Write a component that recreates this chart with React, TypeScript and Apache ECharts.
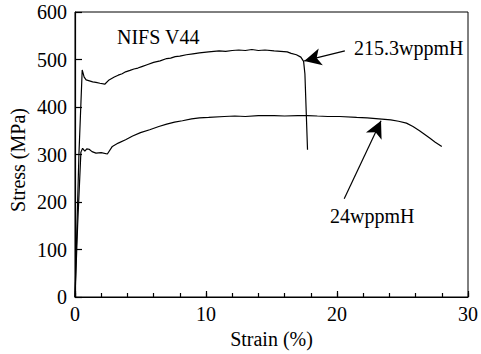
import React, { useEffect, useRef } from "react";
import * as echarts from "echarts";

const highH: [number, number][] = [
  [0, 0], [0.3, 300], [0.55, 478], [0.7, 463], [0.85, 457], [1.1, 455], [1.35, 453], [1.6, 452],
  [1.9, 450], [2.27, 448], [2.6, 457], [3.0, 463], [3.3, 467], [3.6, 470], [3.86, 474], [4.2, 477],
  [4.5, 480], [4.8, 482], [5.1, 485], [5.5, 489], [6.0, 494], [6.5, 497], [7.0, 502], [7.3, 503],
  [7.65, 506], [8.0, 507], [8.5, 510], [9.0, 512], [9.5, 514], [10.2, 516], [10.6, 517], [11.0, 518],
  [11.5, 517], [12.0, 519], [12.5, 520], [13.0, 519], [13.5, 521], [14.0, 519], [14.5, 520], [15.2, 518],
  [15.7, 517], [16.2, 516], [16.5, 513], [16.9, 510], [17.24, 505], [17.45, 496], [17.55, 470], [17.75, 310]
];

const lowH: [number, number][] = [
  [0, 0], [0.2, 150], [0.45, 305], [0.58, 313], [0.75, 307], [0.9, 312], [1.08, 311], [1.3, 306],
  [1.6, 303], [2.0, 304], [2.47, 301], [2.85, 317], [3.3, 324], [3.86, 331], [4.4, 339], [5.0, 346],
  [5.7, 352], [6.4, 359], [7.0, 364], [7.6, 368], [8.2, 371], [8.9, 375], [9.5, 377], [10.2, 378],
  [11.4, 380], [12.2, 381], [13.0, 380], [14.0, 382], [15.2, 382], [16.0, 381], [17.0, 382], [17.75, 382],
  [18.5, 381], [19.3, 380], [20.2, 380], [21.5, 378], [22.3, 377], [23.2, 375], [24.1, 373], [24.7, 370],
  [25.3, 366], [25.8, 359], [26.3, 350], [26.7, 342], [27.1, 334], [27.5, 326], [28.0, 317]
];

const arrowHigh = [[20.6, 518], [17.5, 497]];
const arrowLow = [[20.55, 207], [23.36, 371]];

const xTicks = { min: 0, max: 30, interval: 10 };
const xMinorTicks = { min: 0, max: 30, interval: 2 };
const yTicks = { min: 0, max: 600, interval: 100 };

const FONT = "Liberation Serif";
const FONT_CSS = "20px 'Liberation Serif'";

export default function App() {
  const ref = useRef<HTMLDivElement>(null);
  useEffect(() => {
    const chart = echarts.init(ref.current!, null, { renderer: "svg" });
    const txt = { color: "#000", fontSize: 20, fontFamily: FONT };
    const arrowLine = (a: number[][]) => ({
      silent: true,
      symbol: ["none", "arrow"],
      symbolSize: [13, 17],
      lineStyle: { color: "#000", width: 1.2, type: "solid" },
      label: { show: false },
      data: [[{ coord: a[0] }, { coord: a[1] }]],
    });
    const gtext = (text: string, x: number, y: number, extra: any = {}) => ({
      type: "text", x, y, ...extra,
      style: { text, fill: "#000", font: FONT_CSS, verticalAlign: "middle", align: extra.align || "left" },
    });
    chart.setOption({
      animation: false,
      textStyle: { fontFamily: FONT },
      grid: { left: 75, right: 10, top: 12, bottom: 57, show: true, borderColor: "#000", borderWidth: 1 },
      xAxis: [
        {
          type: "value", ...xTicks, position: "bottom",
          name: "Strain (%)", nameLocation: "middle", nameGap: 31,
          nameTextStyle: txt,
          axisLine: { lineStyle: { color: "#000", width: 1.2 } },
          axisTick: { inside: true, length: 6, lineStyle: { color: "#000", width: 1.2 } },
          splitLine: { show: false },
          axisLabel: { ...txt, margin: 7 },
        },
        {
          type: "value", ...xMinorTicks, position: "bottom", offset: 0,
          axisLine: { show: false },
          axisTick: { inside: true, length: 4, lineStyle: { color: "#000", width: 1.2 } },
          splitLine: { show: false },
          axisLabel: { show: false },
        },
      ],
      yAxis: {
        type: "value", ...yTicks,
        axisLine: { lineStyle: { color: "#000", width: 1.2 } },
        axisTick: { inside: true, length: 7, lineStyle: { color: "#000", width: 1.2 } },
        splitLine: { show: false },
        axisLabel: { ...txt, margin: 8 },
      },
      graphic: [
        gtext("NIFS V44", 117, 37),
        gtext("215.3wppmH", 354, 47.5),
        gtext("24wppmH", 330, 215.5),
        gtext("Stress (MPa)", 18, 160, { rotation: Math.PI / 2, align: "center" }),
      ],
      series: [
        {
          type: "line", data: highH, showSymbol: false, smooth: false, xAxisIndex: 0,
          lineStyle: { color: "#000", width: 1.2 },
          markLine: arrowLine(arrowHigh),
        },
        {
          type: "line", data: lowH, showSymbol: false, smooth: false, xAxisIndex: 0,
          lineStyle: { color: "#000", width: 1.2 },
          markLine: arrowLine(arrowLow),
        },
      ],
    });
    return () => chart.dispose();
  }, []);
  return <div ref={ref} style={{ position: "fixed", left: 0, top: 0, width: 481, height: 354, background: "#fff" }} />;
}
